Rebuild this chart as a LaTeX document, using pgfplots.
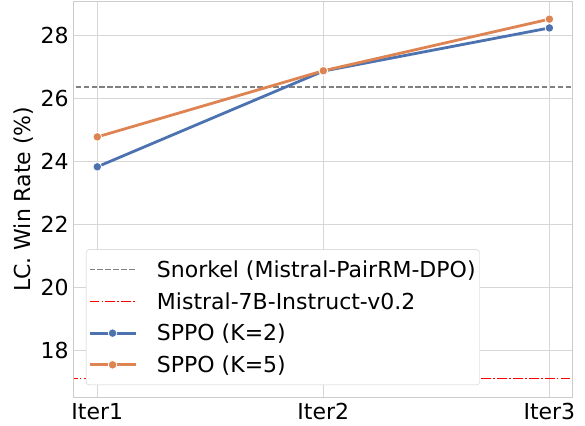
\documentclass[border=0pt]{standalone}
\usepackage{pgfplots}
\pgfplotsset{compat=1.18}
\usepackage{fontspec}
\setmainfont{DejaVu Sans}
\definecolor{sblue}{HTML}{4C72B0}
\definecolor{sorange}{HTML}{DD8452}
\definecolor{gridc}{HTML}{D6D6D6}
\definecolor{framec}{HTML}{CCCCCC}
\definecolor{mistralred}{HTML}{FF0000}
\begin{document}
\begin{tikzpicture}
\useasboundingbox (-74pt,-28pt) rectangle (511pt,397pt);
\begin{axis}[
  at={(0,0)}, anchor=south west,
  scale only axis,
  width=498pt, height=395.5pt,
  xmin=-0.103, xmax=2.1,
  ymin=16.53, ymax=29.09,
  xtick={0,1,2},
  xticklabels={Iter1,Iter2,Iter3},
  ytick={18,20,22,24,26,28},
  /pgf/number format/assume math mode=true,
  tick label style={font=\fontsize{22}{26}\selectfont},
  label style={font=\fontsize{22}{26}\selectfont},
  ylabel={LC. Win Rate (\%)},
  ylabel style={at={(axis description cs:-0.1004,0.5)}, anchor=center},
  major tick length=0pt,
  xticklabel style={yshift=-2.7pt},
  yticklabel style={xshift=-1.8pt},
  grid=major,
  major grid style={draw=gridc, line width=1pt},
  axis line style={draw=framec, line width=1pt},
  legend style={at={(0.024,0.03)}, anchor=south west,
    font=\fontsize{22}{26}\selectfont,
    fill=white, draw=framec, rounded corners=3pt,
    inner xsep=2pt, inner ysep=9pt,
    row sep=9.5pt, column sep=18pt},
  legend cell align=left,
  legend image code/.code={
    \draw[mark repeat=2,mark phase=2,#1] plot coordinates {(0pt,0pt) (23pt,0pt) (46pt,0pt)};
  },
]
\addplot[color=gray, line width=1.5pt, dash pattern=on 5.5pt off 2.4pt] coordinates {(-0.2,26.38) (2.2,26.38)};
\addlegendentry{Snorkel (Mistral-PairRM-DPO)}
\addplot[color=mistralred, line width=1.5pt, dash pattern=on 9.6pt off 2.4pt on 1.5pt off 2.4pt] coordinates {(-0.2,17.11) (2.2,17.11)};
\addlegendentry{Mistral-7B-Instruct-v0.2}
\addplot[color=sblue, line width=2.8pt, mark=*, mark size=4.3pt, mark options={fill=sblue, draw=white, line width=0.8pt, solid}] coordinates {(0,23.84) (1,26.88) (2,28.25)};
\addlegendentry{SPPO (K=2)}
\addplot[color=sorange, line width=2.8pt, mark=*, mark size=4.3pt, mark options={fill=sorange, draw=white, line width=0.8pt, solid}] coordinates {(0,24.79) (1,26.89) (2,28.53)};
\addlegendentry{SPPO (K=5)}
\end{axis}
\end{tikzpicture}
\end{document}
